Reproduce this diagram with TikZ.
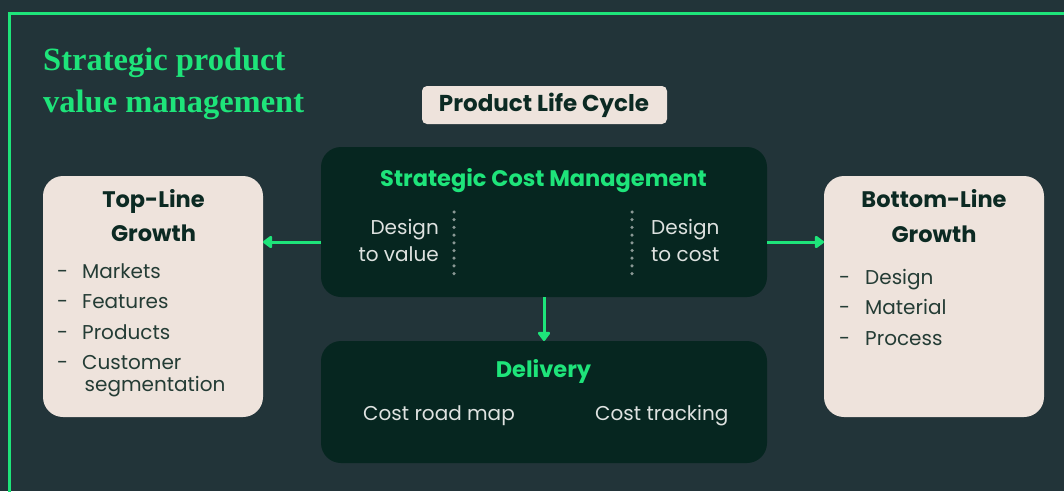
\documentclass[tikz,border=0pt]{standalone}
\usepackage{fontspec}
\setmainfont{Poppins}
\newfontfamily\headserif{Liberation Serif}
\usetikzlibrary{arrows.meta}
\definecolor{bg}{RGB}{34,52,57}
\definecolor{accent}{RGB}{30,228,122}
\definecolor{paper}{RGB}{238,227,220}
\definecolor{deep}{RGB}{6,38,32}
\definecolor{ink}{RGB}{12,42,35}
\definecolor{inksoft}{RGB}{36,60,53}
\definecolor{mist}{RGB}{222,226,224}
\definecolor{dotgrey}{RGB}{138,152,149}
\begin{document}
\begin{tikzpicture}[x=1pt,y=-1pt,
  box/.style={inner sep=0pt, outer sep=0pt, anchor=north west},
  lightpanel/.style={box, fill=paper, rounded corners=20pt},
  darkpanel/.style={box, fill=deep, rounded corners=20pt},
  flow/.style={draw=accent, line width=3pt, -{Triangle[round, width=14pt,length=10pt]}},
  dots/.style={draw=dotgrey, line width=3.5pt, line cap=round, dash pattern=on 0pt off 7.7pt},
  lighthead/.style={font=\fontsize{22.5}{27}\selectfont\bfseries, text=ink, inner sep=0pt, anchor=base},
  lightitem/.style={font=\fontsize{20}{24}\selectfont, text=inksoft, inner sep=0pt, anchor=base west},
  darkhead/.style={font=\fontsize{22.5}{27}\selectfont\bfseries, text=accent, inner sep=0pt, anchor=base},
  darkitem/.style={font=\fontsize{20}{24}\selectfont, text=mist, inner sep=0pt},
]
% canvas and frame
\fill[bg] (0,0) rectangle (1064,491);
\useasboundingbox (0,0) rectangle (1064,491);
\draw[accent, line width=3pt] (9.5,492) -- (9.5,13) -- (1065,13);

% title
\node[font=\headserif\fontsize{32.5}{42}\selectfont\bfseries, text=accent, inner sep=0pt, anchor=base west] (t1) at (43,70) {Strategic product};
\node[font=\headserif\fontsize{32.5}{42}\selectfont\bfseries, text=accent, inner sep=0pt, anchor=base west] (t2) at (43,112) {value management};

% product life cycle tag
\node[box, fill=paper, rounded corners=5pt, minimum width=245pt, minimum height=38pt] (plc) at (422,86) {};
\node[font=\fontsize{23}{27}\selectfont\bfseries, text=ink, inner sep=0pt, anchor=base] (plct) at (544,111) {Product Life Cycle};

% panels
\node[lightpanel, minimum width=220pt, minimum height=241pt] (top) at (43,176) {};
\node[lightpanel, minimum width=220pt, minimum height=241pt] (bottom) at (824,176) {};
\node[darkpanel, minimum width=446pt, minimum height=150pt] (scm) at (321,147) {};
\node[darkpanel, minimum width=446pt, minimum height=122pt] (del) at (321,341) {};

% top-line growth
\node[lighthead] (toph1) at (153.5,207) {Top-Line};
\node[lighthead] (toph2) at (153.5,241) {Growth};
\foreach \y/\txt [count=\i] in {278/Markets,308/Features,339/Products,369/Customer}{
  \node[lightitem] (topd\i) at (57,\y) {-};
  \node[lightitem] (topi\i) at (82,\y) {\txt};
}
\node[lightitem] (topi5) at (84.5,391) {segmentation};

% bottom-line growth
\node[lighthead] (both1) at (934,207) {Bottom-Line};
\node[lighthead] (both2) at (934,242) {Growth};
\foreach \y/\txt [count=\i] in {284/Design,314/Material,345/Process}{
  \node[lightitem] (botd\i) at (839,\y) {-};
  \node[lightitem] (boti\i) at (865,\y) {\txt};
}

% strategic cost management
\node[darkhead] (scmt) at (543.5,186) {Strategic Cost Management};
\node[darkitem, anchor=base east] (dv1) at (439,234) {Design};
\node[darkitem, anchor=base east] (dv2) at (439,261) {to value};
\node[darkitem, anchor=base west] (dc1) at (651,234) {Design};
\node[darkitem, anchor=base west] (dc2) at (651,261) {to cost};
\coordinate (d1a) at (454,212);
\coordinate (d1b) at (454,275);
\coordinate (d2a) at (632,212);
\coordinate (d2b) at (632,275);
\draw[dots] (d1a) -- (d1b);
\draw[dots] (d2a) -- (d2b);

% delivery
\node[darkhead] (delt) at (543.5,377) {Delivery};
\node[darkitem, anchor=base west] (crm) at (363,420) {Cost road map};
\node[darkitem, anchor=base west] (ctr) at (595,420) {Cost tracking};

% connectors
\draw[flow] (scm.west |- 0,242) -- (top.east |- 0,242);
\draw[flow] (scm.east |- 0,242) -- (bottom.west |- 0,242);
\draw[flow] (scm.south -| 544,0) -- (del.north -| 544,0);
\end{tikzpicture}
\end{document}
